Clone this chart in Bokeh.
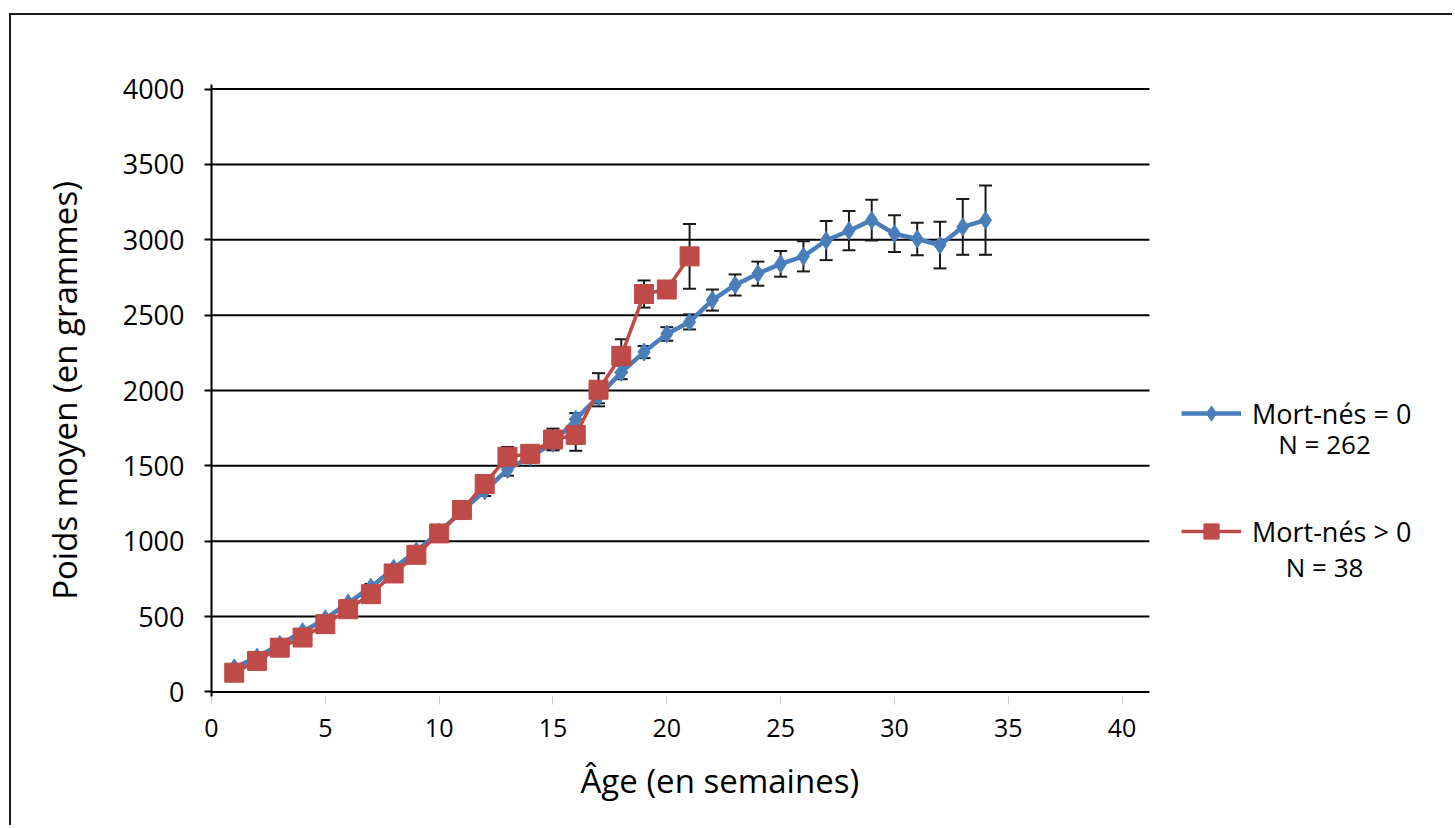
from bokeh.plotting import figure
from bokeh.models import (ColumnDataSource, Whisker, TeeHead, Legend, LegendItem,
                          Label, FixedTicker, Range1d, Title)
from bokeh.embed import file_html
from bokeh.resources import INLINE

# ---------------- data ----------------
weeks_blue = list(range(1, 35))
blue_mean = [160, 230, 315, 400, 485, 590, 695, 820, 935, 1060, 1200, 1335, 1475, 1560,
             1650, 1810, 1960, 2120, 2255, 2375, 2455, 2600, 2700, 2775, 2840, 2890,
             2995, 3060, 3130, 3040, 3005, 2965, 3085, 3130]
blue_err = [15, 15, 18, 18, 20, 20, 22, 22, 25, 25, 30, 35, 40, 40, 40, 40, 45, 45,
            40, 45, 50, 70, 70, 80, 85, 100, 130, 130, 135, 122, 108, 155, 185, 230]

weeks_red = list(range(1, 22))
red_mean = [128, 206, 294, 361, 450, 549, 649, 786, 910, 1052, 1207, 1380, 1560, 1580,
            1675, 1705, 2005, 2230, 2640, 2670, 2890]
red_err = [15, 15, 20, 20, 20, 25, 25, 30, 30, 35, 40, 50, 65, 55, 72, 105, 110, 110,
           90, 30, 215]

x_ticks = [0, 5, 10, 15, 20, 25, 30, 35, 40]
y_ticks = [0, 500, 1000, 1500, 2000, 2500, 3000, 3500, 4000]

labels = ["Mort-nés = 0", "Mort-nés > 0"]
n_labels = ["N = 262", "N = 38"]
x_title = "Âge (en semaines)"
y_title = "Poids moyen (en grammes)"

BLUE = "#4A7EBB"
RED = "#BE4B48"
FONT = "Open Sans"
GRID_END = 41.2      # horizontal grid lines stop here (x units)

src_b = ColumnDataSource(dict(x=weeks_blue, y=blue_mean,
                              upper=[m + e for m, e in zip(blue_mean, blue_err)],
                              lower=[m - e for m, e in zip(blue_mean, blue_err)]))
src_r = ColumnDataSource(dict(x=weeks_red, y=red_mean,
                              upper=[m + e for m, e in zip(red_mean, red_err)],
                              lower=[m - e for m, e in zip(red_mean, red_err)]))
src_g = ColumnDataSource(dict(y=y_ticks, x0=[0] * len(y_ticks),
                              x1=[GRID_END] * len(y_ticks)))

p = figure(width=1443, height=812, output_backend="svg", toolbar_location=None,
           x_range=Range1d(0, 54.38), y_range=Range1d(-30, 4030),
           min_border_left=200, min_border_right=5, min_border_top=69,
           min_border_bottom=131,
           styles={"margin-left": "9px", "margin-top": "13px",
                   "border-left": "2px solid #1a1a1a", "border-top": "2px solid #1a1a1a"})
p.outline_line_color = None
p.background_fill_color = "white"
p.border_fill_color = "white"

# axes
p.xaxis.ticker = FixedTicker(ticks=x_ticks)
p.yaxis.ticker = FixedTicker(ticks=y_ticks)
p.xgrid.grid_line_color = None
p.ygrid.grid_line_color = None
p.segment(x0="x0", x1="x1", y0="y", y1="y", source=src_g, line_color="black",
          line_width=2, level="underlay")

p.yaxis.axis_line_color = "black"
p.yaxis.axis_line_width = 2
p.yaxis.major_tick_line_color = "black"
p.yaxis.major_tick_line_width = 2
p.yaxis.major_tick_out = 7
p.yaxis.major_tick_in = 0
p.yaxis.minor_tick_line_color = None
p.yaxis.major_label_standoff = 20
p.yaxis.major_label_text_font = FONT
p.yaxis.major_label_text_font_size = "27px"
p.yaxis.major_label_text_color = "black"
p.yaxis.axis_label = y_title
p.yaxis.axis_label_text_font = FONT
p.yaxis.axis_label_text_font_size = "33px"
p.yaxis.axis_label_text_font_style = "normal"
p.yaxis.axis_label_text_color = "black"
p.yaxis.axis_label_standoff = 33

p.xaxis.axis_line_color = None
p.xaxis.major_tick_line_color = "#c8c8c8"
p.xaxis.major_tick_out = 8
p.xaxis.major_tick_in = 0
p.xaxis.minor_tick_line_color = None
p.xaxis.major_label_standoff = 14
p.xaxis.major_label_text_font = FONT
p.xaxis.major_label_text_font_size = "25px"
p.xaxis.major_label_text_color = "black"

p.add_layout(Title(text=x_title, align="left", offset=369, standoff=32,
                   text_font=FONT, text_font_size="33px", text_font_style="normal",
                   text_color="black"), "below")

# error bars (under the markers)
for src in (src_b, src_r):
    w = Whisker(source=src, base="x", upper="upper", lower="lower", dimension="height",
                line_color="#1a1a1a", line_width=2, level="underlay",
                upper_head=TeeHead(size=13, line_width=2, line_color="#1a1a1a"),
                lower_head=TeeHead(size=13, line_width=2, line_color="#1a1a1a"))
    p.add_layout(w)

bl = p.line("x", "y", source=src_b, line_color=BLUE, line_width=4.5)
bm = p.scatter("x", "y", source=src_b, marker="diamond", size=18,
               fill_color=BLUE, line_color=BLUE)
rl = p.line("x", "y", source=src_r, line_color=RED, line_width=3.5)
rm = p.scatter("x", "y", source=src_r, marker="square", size=19,
               fill_color=RED, line_color=RED)

legend = Legend(items=[LegendItem(label=labels[0], renderers=[bl, bm]),
                       LegendItem(label=labels[1], renderers=[rl, rm])],
                location=(970, 146), glyph_width=60, glyph_height=38, label_height=38,
                spacing=80, padding=0, margin=0, label_standoff=11,
                border_line_color=None, background_fill_alpha=0,
                label_text_font=FONT, label_text_font_size="27px",
                label_text_color="black")
p.add_layout(legend)

for txt, yy in zip(n_labels, [1645, 829]):
    p.add_layout(Label(x=48.89, y=yy, text=txt, text_align="center",
                       text_baseline="middle", text_font=FONT,
                       text_font_size="26px", text_color="black"))

open("out.html", "w").write(file_html(p, INLINE))
